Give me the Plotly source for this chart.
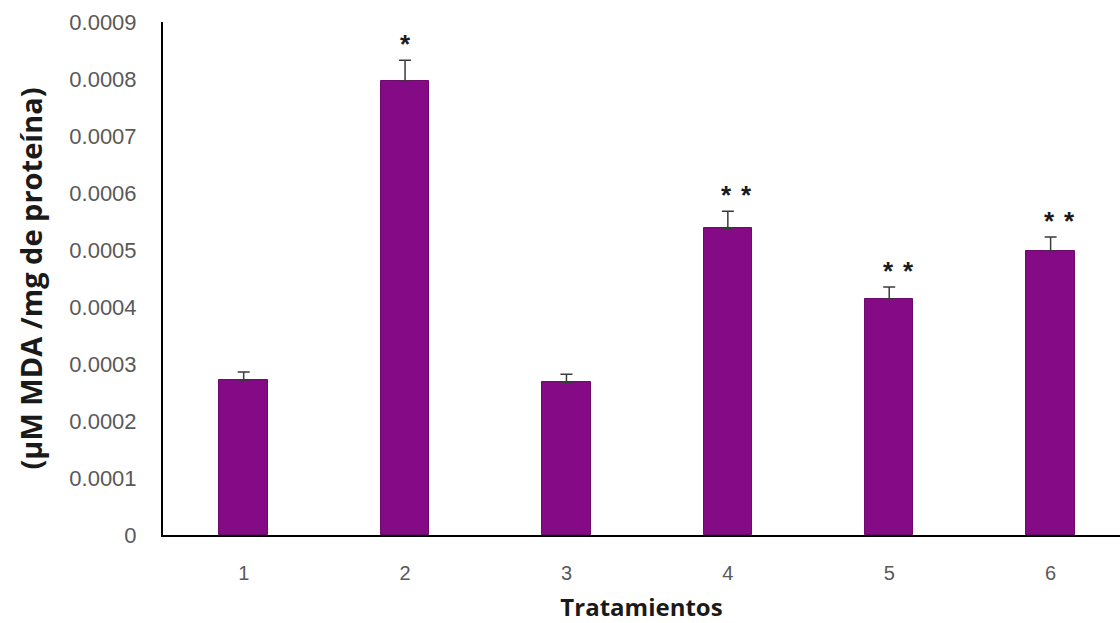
import plotly.graph_objects as go

# Treatment groups and measured values
treatments = ["1", "2", "3", "4", "5", "6"]
mda_mean = [0.000272, 0.000796, 0.000268, 0.000538, 0.000414, 0.000498]
mda_err = [0.000014, 0.000037, 0.000014, 0.000030, 0.000021, 0.000025]
significance = ["", "*", "", "**", "**", "**"]
y_ticks = [0, 0.0001, 0.0002, 0.0003, 0.0004, 0.0005, 0.0006, 0.0007, 0.0008, 0.0009]
y_tick_text = ["0", "0.0001", "0.0002", "0.0003", "0.0004", "0.0005",
               "0.0006", "0.0007", "0.0008", "0.0009"]

xpos = list(range(len(treatments)))

fig = go.Figure()
fig.add_trace(go.Bar(
    x=xpos,
    y=mda_mean,
    width=0.30,
    marker=dict(color="#850a85", line=dict(color="#6e0a6e", width=1)),
    error_y=dict(type="data", array=mda_err, arrayminus=[0] * len(mda_err),
                 symmetric=False, color="#3a3a3a", thickness=1.5, width=6),
    showlegend=False,
))

# Significance marks above the error bars
annotations = []
for i, mark in enumerate(significance):
    if not mark:
        continue
    top = mda_mean[i] + mda_err[i]
    offsets = [0] if len(mark) == 1 else [-1, 19]
    for dx in offsets:
        annotations.append(dict(
            x=xpos[i], y=top, text="<b>*</b>", showarrow=False,
            xanchor="center", yanchor="middle",
            xshift=dx, yshift=16,
            font=dict(family="Liberation Sans", size=26, color="#1a1a1a"),
        ))

fig.update_layout(
    width=1120, height=623,
    margin=dict(l=163, r=0, t=22, b=88),
    paper_bgcolor="white", plot_bgcolor="white",
    bargap=0,
    annotations=annotations,
    xaxis=dict(
        range=[-0.5, 5.43],
        tickmode="array", tickvals=xpos, ticktext=treatments,
        showgrid=False, zeroline=False,
        showline=True, linecolor="black", linewidth=2,
        ticks="", ticklabelstandoff=19,
        tickfont=dict(family="Liberation Sans", size=20, color="#595959"),
        title=dict(text="<b>Tratamientos</b>", standoff=20,
                   font=dict(family="Open Sans", size=24, color="#1a1a1a")),
    ),
    yaxis=dict(
        range=[0, 0.0009],
        tickmode="array", tickvals=y_ticks, ticktext=y_tick_text,
        showgrid=False, zeroline=False,
        showline=True, linecolor="black", linewidth=2,
        ticks="", ticklabelstandoff=20,
        tickfont=dict(family="Liberation Sans", size=22, color="#595959"),
        title=dict(text="<b>(µM MDA /mg de proteína)</b>", standoff=18,
                   font=dict(family="Open Sans", size=29, color="#1a1a1a")),
    ),
)

fig.write_html("out.html")
